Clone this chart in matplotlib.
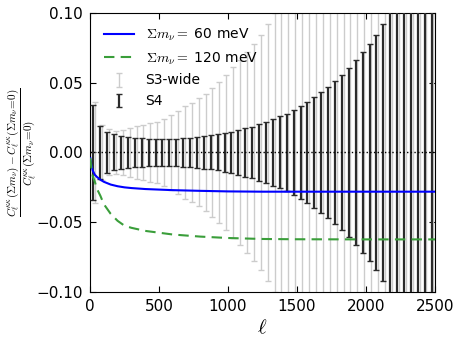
import matplotlib
matplotlib.use('Agg')
import matplotlib.pyplot as plt
import matplotlib.ticker as ticker
import numpy as np

# ── Data ─────────────────────────────────────────────────────────────────────
ell_bins = np.arange(25, 2500, 50)

err_s4 = [0.0340, 0.0191, 0.0148, 0.0129, 0.0119, 0.0112, 0.0107, 0.0103, 0.0100, 0.0098,
          0.0096, 0.0098, 0.0100, 0.0103, 0.0107, 0.0112, 0.0119, 0.0122, 0.0129, 0.0139,
          0.0146, 0.0160, 0.0174, 0.0186, 0.0203, 0.0220, 0.0240, 0.0258, 0.0278, 0.0306,
          0.0330, 0.0360, 0.0397, 0.0432, 0.0468, 0.0511, 0.0554, 0.0607, 0.0660, 0.0720,
          0.0781, 0.0845, 0.0920, 0.104, 0.111, 0.122, 0.134, 0.147, 0.161, 0.177]

err_s3 = [0.0364, 0.0200, 0.0165, 0.0155, 0.0160, 0.0175, 0.0188, 0.0198, 0.0210, 0.0222,
          0.0240, 0.0268, 0.0300, 0.0332, 0.0358, 0.0387, 0.0416, 0.0459, 0.0507, 0.0555,
          0.0610, 0.0660, 0.0720, 0.0780, 0.0843, 0.0920, 0.1000, 0.109, 0.118, 0.128,
          0.139, 0.151, 0.164, 0.178, 0.193, 0.210, 0.228, 0.248, 0.270, 0.294,
          0.320, 0.350, 0.380, 0.410, 0.450, 0.490, 0.530, 0.580, 0.630, 0.690]

ell_curve = [2, 10, 20, 35, 50, 75, 100, 150, 200, 250, 300, 400, 500, 600, 800,
             1000, 1250, 1500, 2000, 2500]
ratio_60 = [-0.004, -0.009, -0.013, -0.016, -0.0175, -0.0195, -0.021, -0.023, -0.0242,
            -0.025, -0.0255, -0.0262, -0.0266, -0.0270, -0.0275, -0.0279, -0.0281,
            -0.0281, -0.0281, -0.0281]
ratio_120 = [-0.004, -0.011, -0.017, -0.021, -0.026, -0.031, -0.037, -0.044, -0.049,
             -0.0525, -0.054, -0.0562, -0.0575, -0.0588, -0.0603, -0.0613, -0.062,
             -0.0622, -0.0623, -0.0623]

# ── Style ────────────────────────────────────────────────────────────────────
plt.rcParams['mathtext.fontset'] = 'cm'
plt.rcParams['font.family'] = ['DejaVu Sans']
plt.rcParams['xtick.direction'] = 'in'
plt.rcParams['ytick.direction'] = 'in'
plt.rcParams['xtick.top'] = True
plt.rcParams['ytick.right'] = True

fig = plt.figure(figsize=(4.58, 3.41), dpi=100)
ax = fig.add_axes([0.1965, 0.1437, 0.7535, 0.8183])

ax.plot(ell_curve, ratio_60, color='#0000ff', lw=1.5,
        label=r'$\Sigma m_\nu =$ 60 meV', zorder=4)
ax.plot(ell_curve, ratio_120, color='#3a9e3a', lw=1.5, ls=(0, (5, 3)),
        label=r'$\Sigma m_\nu =$ 120 meV', zorder=4)
ax.errorbar(ell_bins + 12, np.zeros(len(ell_bins)), yerr=err_s3, fmt='none',
            ecolor='#cccccc', elinewidth=1.0, capsize=2, capthick=1.0,
            label='S3-wide', zorder=2)
ax.errorbar(ell_bins, np.zeros(len(ell_bins)), yerr=err_s4, fmt='none',
            ecolor='#2b2b2b', elinewidth=1.6, capsize=2, capthick=1.0,
            label='S4', zorder=3)
ax.axhline(0, color='black', ls=':', lw=1.0, zorder=5)

ax.set_xlim(0, 2500)
ax.set_ylim(-0.10, 0.10)
ax.xaxis.set_major_locator(ticker.MultipleLocator(500))
ax.yaxis.set_major_locator(ticker.MultipleLocator(0.05))
ax.yaxis.set_major_formatter(ticker.FuncFormatter(
    lambda v, _: f'{v:.2f}'.replace('-', '\u2212')))
ax.tick_params(labelsize=11, length=4, width=0.8, pad=5)

ax.set_xlabel(r'$\ell$', fontsize=15, labelpad=2)
ax.set_ylabel(r'$\dfrac{C_\ell^{\kappa\kappa}(\Sigma m_\nu) - C_\ell^{\kappa\kappa}(\Sigma m_\nu\!=\!0)}'
              r'{C_\ell^{\kappa\kappa}(\Sigma m_\nu\!=\!0)}$', fontsize=8)
ax.yaxis.set_label_coords(-0.15, 0.5)

ax.legend(loc='upper left', frameon=False, fontsize=10, handlelength=2.2,
          labelspacing=0.5, borderaxespad=0.6)

fig.savefig('out.png', dpi=100, facecolor='white')
